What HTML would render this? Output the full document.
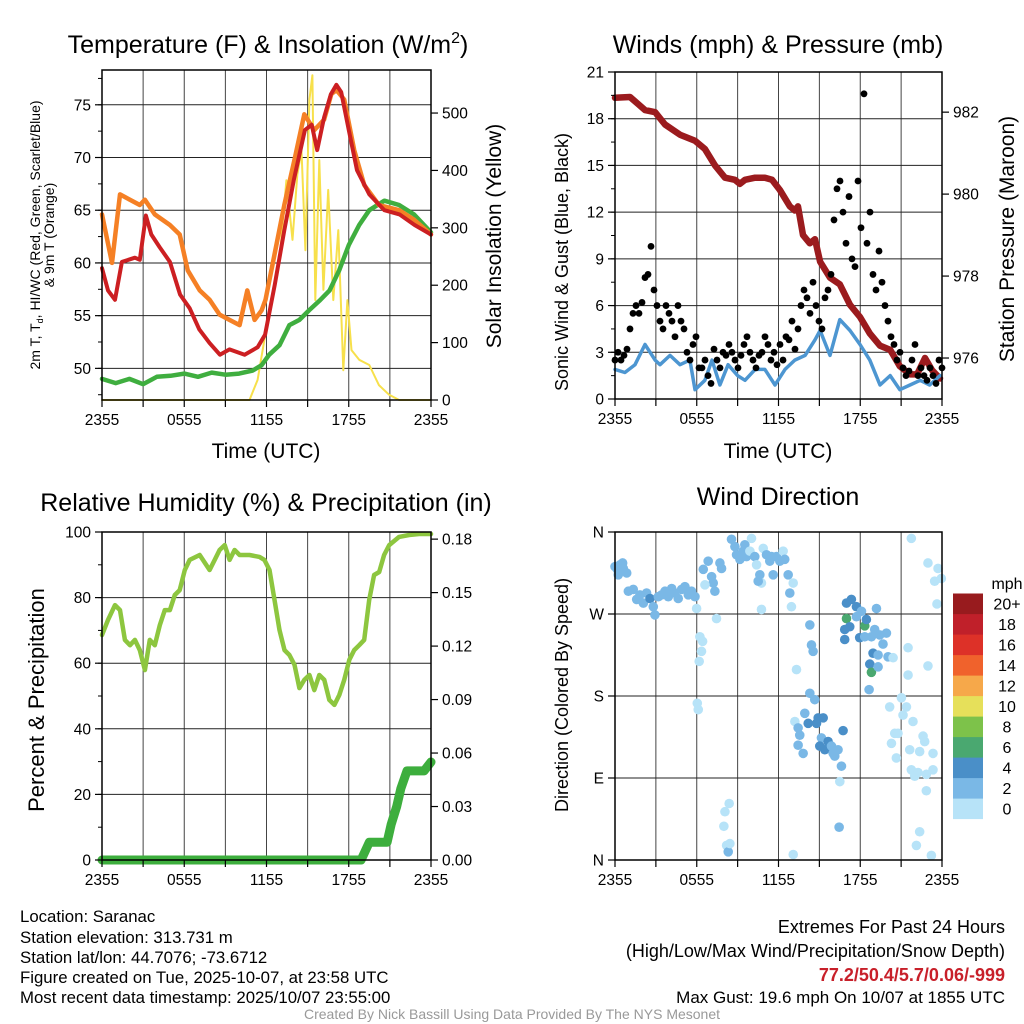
<!DOCTYPE html>
<html><head><meta charset="utf-8">
<style>
html,body{margin:0;padding:0;background:#fff;}
svg{display:block;font-family:"Liberation Sans",Arial,sans-serif;}
</style></head>
<body>
<svg id="chart" width="1024" height="1024" viewBox="0 0 1024 1024" xmlns="http://www.w3.org/2000/svg">
<g id="layer-grid"></g>
<g id="layer-data"></g>
<g id="layer-axes"></g>

<text x="268" y="53" font-size="25" text-anchor="middle">Temperature (F) &amp; Insolation (W/m<tspan font-size="16" dy="-10">2</tspan><tspan dy="10">)</tspan></text>
<text x="778" y="53" font-size="25" text-anchor="middle">Winds (mph) &amp; Pressure (mb)</text>
<text x="266" y="511" font-size="25" text-anchor="middle">Relative Humidity (%) &amp; Precipitation (in)</text>
<text x="778" y="505" font-size="25" text-anchor="middle">Wind Direction</text>

<text x="266" y="458" font-size="21" text-anchor="middle">Time (UTC)</text>
<text x="778" y="458" font-size="21" text-anchor="middle">Time (UTC)</text>

<text transform="translate(40,235) rotate(-90)" font-size="14" text-anchor="middle">2m T, T<tspan font-size="9" dy="3">d</tspan><tspan dy="-3">, HI/WC (Red, Green, Scarlet/Blue)</tspan></text>
<text transform="translate(54,235) rotate(-90)" font-size="14" text-anchor="middle">&amp; 9m T (Orange)</text>
<text transform="translate(501,236) rotate(-90)" font-size="21" text-anchor="middle">Solar Insolation (Yellow)</text>
<text transform="translate(568,262) rotate(-90)" font-size="18" text-anchor="middle">Sonic Wind &amp; Gust (Blue, Black)</text>
<text transform="translate(1014,239) rotate(-90)" font-size="21" text-anchor="middle">Station Pressure (Maroon)</text>
<text transform="translate(44,700) rotate(-90)" font-size="22" text-anchor="middle">Percent &amp; Precipitation</text>
<text transform="translate(568,695) rotate(-90)" font-size="18" text-anchor="middle">Direction (Colored By Speed)</text>

<g font-size="16.8">
<text x="20" y="922">Location: Saranac</text>
<text x="20" y="943">Station elevation: 313.731 m</text>
<text x="20" y="963">Station lat/lon: 44.7076; -73.6712</text>
<text x="20" y="983">Figure created on Tue, 2025-10-07, at 23:58 UTC</text>
<text x="20" y="1003">Most recent data timestamp: 2025/10/07 23:55:00</text>
</g>
<g font-size="18" text-anchor="end">
<text x="1005" y="933">Extremes For Past 24 Hours</text>
<text x="1005" y="957">(High/Low/Max Wind/Precipitation/Snow Depth)</text>
<text x="1005" y="981" fill="#c8202a" font-weight="bold">77.2/50.4/5.7/0.06/-999</text>
<text x="1005" y="1003" font-size="17">Max Gust: 19.6 mph On 10/07 at 1855 UTC</text>
</g>
<text x="512" y="1019" font-size="14" fill="#999" text-anchor="middle">Created By Nick Bassill Using Data Provided By The NYS Mesonet</text>
</svg>
<script>
// ---------- data ----------
const xTickLabels = ["2355","0555","1155","1755","2355"];
const xTickHours = [0,6,12,18,24];

const tempTimes = [0,0.44,0.95,1.45,2.4,2.76,3.2,3.6,4.2,4.95,5.7,6.4,7.1,7.85,8.6,9.3,10.4,11.35,11.9,12.6,13.3,14.0,14.8,15.3,15.7,16.2,16.7,17.1,17.45,18.0,18.6,19.5,20.6,21.7,22.8,24];
const tempValues = [59.5,57.4,56.5,60.1,60.5,60.3,64.5,62.7,61.5,60.1,57,55.7,53.7,52.4,51.3,51.8,51.3,52,53.2,57.9,63.1,67.9,72.6,73.1,70.7,73.8,76,76.9,76.2,72.6,68.8,66.5,65,64.6,63.6,62.7];
const temp9mTimes = [0,0.73,1.31,2.76,3.13,3.85,4.95,5.67,6.25,7.13,7.85,8.58,9.3,10.04,10.6,11.13,11.64,11.93,12.58,13.3,14.04,14.76,15.49,16.2,16.73,17.1,17.67,18.4,19.13,20.2,21.67,22.76,24];
const temp9mValues = [64.6,60,66.5,65.5,66,64.6,63.6,62.7,59.3,57.4,56.5,55.1,54.6,54.1,57.4,54.6,55.5,56.5,60.8,65.5,69.8,74.1,72.6,73.6,76,76.4,75.5,70.7,67.4,65.5,65,64.1,62.7];
const dewTimes = [0,1,2,3,4,5,6,7,8,9,10,11,11.64,12.2,12.95,13.67,14.4,15.1,15.85,16.6,17.3,18.0,18.76,19.5,20.6,21.67,22.76,24];
const dewValues = [49,48.6,49,48.5,49.2,49.3,49.5,49.2,49.6,49.4,49.5,49.8,50.3,51.3,52.2,54.1,54.6,55.5,56.4,57.4,59.3,61.7,63.6,65,65.9,65.5,64.6,62.9];
const solarTimes = [0,10.76,11.35,11.85,12.2,12.95,13.45,13.9,14.25,14.55,14.84,15.13,15.35,15.56,15.85,16.15,16.5,16.87,17.24,17.6,17.9,18.2,18.76,19.5,20.2,20.95,21.67,24];
const solarValues = [0,0,35,105,148,244,383,279,392,435,261,523,566,174,418,192,366,174,296,52,174,87,70,61,26,9,0,0];
const tempTicks = [50,55,60,65,70,75];
const solarTicks = [0,100,200,300,400,500];

const pressTimes = [0,1.1,2.2,2.94,3.67,4.77,5.87,6.6,7.34,8.07,8.8,9.17,9.54,10.28,11.0,11.52,12.1,12.84,13.2,13.43,13.8,14.3,14.68,15.05,15.78,16.5,17.25,17.98,18.7,19.45,20.2,20.9,21.65,22.17,22.75,23.27,23.85];
const pressValues = [982.35,982.37,982.05,982.0,981.7,981.45,981.3,981.1,980.7,980.4,980.35,980.25,980.35,980.4,980.4,980.35,980.1,979.7,979.6,979.7,979.0,978.8,978.9,978.35,977.96,977.8,977.3,977.0,976.6,976.3,976.2,975.8,975.6,975.6,976.0,975.7,975.5];
const windTimes = [0,0.73,1.47,2.2,2.94,3.3,4.04,4.77,5.5,5.87,6.6,7.12,7.7,8.3,9.0,9.54,10.28,11.0,11.74,12.48,13.2,13.95,14.68,15.05,15.78,16.5,17.25,17.98,18.7,19.45,20.2,20.9,21.65,22.4,23.1,23.85];
const windValues = [1.9,1.7,2.2,3.5,2.5,2.2,2.8,2.2,2.5,0.6,1.2,2.5,0.9,2.2,1.5,1.2,1.9,1.9,0.9,1.9,2.5,2.8,3.8,4.4,2.8,5.1,4.4,3.5,2.5,0.9,1.5,0.6,0.9,1.2,0.9,1.5];
const gustValues = [2.5,3,2.5,2.8,3.2,4.5,5.5,6,5.5,6.2,7.8,
 8,9.8,7,6,5,4.5,6,5.5,5,
 4,6,5,4.5,3,2.5,3.5,4,2,
 2,2.5,1.5,1,3.2,2.5,2,3,2.8,
 3.5,3,2.5,2,2.8,3.5,4,3,2.5,
 2,2.8,3,4,3.5,2.5,3,2.2,3.5,
 2.5,4,3.8,5,3.2,4.5,6,7,6.5,
 5.5,7.5,6,5,4.5,6.5,7,8,11.5,
 13.5,14,12,10,13,9,8.5,14,11,
 19.6,10,12,8,7,9.5,7.5,6,5,
 4,3.5,2.5,3,2,1.5,1.8,2.5,3.5,
 1.5,2,1.5,1.2,2,1.5,1,2.5,2];
const windTicks = [0,3,6,9,12,15,18,21];
const pressTicks = [976,978,980,982];

const rhTimes = [0,0.44,0.95,1.31,1.67,2.04,2.4,2.76,3.13,3.49,3.85,4.22,4.58,4.95,5.31,5.67,6.04,6.4,7.13,7.85,8.22,8.58,8.95,9.31,9.67,10.04,10.76,11.49,11.85,12.22,12.58,12.95,13.31,13.67,14.04,14.4,14.76,15.13,15.49,15.85,16.22,16.58,16.95,17.31,17.67,18.04,18.4,18.76,19.13,19.49,19.85,20.22,20.58,20.95,21.67,22.4,23.13,24];
const rhValues = [68.6,73.2,77.7,76.2,67.1,65.5,67.1,64,57.9,67.1,65.5,71.6,76.2,76.2,80.8,82.3,88.4,91.5,93,88.4,91.5,94.5,96,91.5,94.5,93,93,92.4,91.5,88.4,79.3,70.1,64,62.5,59.5,52.4,54.9,56.4,51.8,56.4,54.9,48.8,47.3,50.3,54.9,61,64,65.5,67.1,79.3,86.9,87.8,93,96,98.5,99.1,99.4,99.4];
const precipTimes = [0,18.9,19.5,20.8,21.1,21.5,21.8,22.25,23.5,24];
const precipValues = [0,0,0.01,0.01,0.02,0.03,0.04,0.05,0.05,0.055];
const rhTicks = [0,20,40,60,80,100];
const precipTicks = [0,0.03,0.06,0.09,0.12,0.15,0.18];
const precipTickLabels = ["0.00","0.03","0.06","0.09","0.12","0.15","0.18"];

const dirTimes = [0,0.17,0.37,0.61,0.86,0.24,0.56,0.98,1.34,1.59,1.83,2.08,2.32,2.57,2.81,2.93,3.18,3.42,3.67,3.91,4.16,4.40,4.64,4.89,5.13,5.38,5.62,5.87,5.99,6.48,6.84,7.09,7.21,7.33,7.70,7.82,6.60,7.45,6.23,6.43,6.35,6.18,6.04,6.11,8.38,8.07,7.99,8.19,8.31,8.43,8.55,8.80,8.92,9.17,9.41,9.65,9.53,10.02,9.90,10.26,10.39,10.63,10.75,10.75,10.51,10.88,11.12,11.36,11.49,11.61,11.85,12.10,12.34,12.46,12.71,12.83,12.95,13.08,13.32,14.30,14.42,14.54,14.30,14.66,13.20,13.44,13.56,13.93,14.18,13.81,13.44,14.79,14.91,15.28,15.15,15.40,15.64,15.89,16.13,16.37,16.62,16.74,15.03,16.01,16.50,16.45,16.99,17.35,17.72,18.09,16.99,17.23,16.86,16.86,17.96,18.33,18.33,18.45,18.82,19.19,19.06,19.43,19.67,19.92,18.94,19.31,18.70,18.82,19.31,20.04,20.41,18.65,17.72,21.75,22.97,23.71,23.46,23.95,23.63,21.51,21.51,22.97,20.16,21.02,21.14,21.39,21.87,22.61,22.73,22.36,20.53,20.77,20.29,20.65,21.63,21.75,22.00,22.24,22.85,23.34,23.34,22.85,22.36,22.12,23.22,13.08];
const dirDegrees = [322,319,324,320,315,313,326,295,297,286,291,282,293,287,278,269,289,291,295,289,298,293,287,297,300,291,295,289,276,319,328,311,304,295,326,320,302,265,245,240,229,218,172,165,62,53,37,16,9,18,352,344,335,330,339,333,346,353,339,333,324,313,304,275,306,342,335,328,333,313,333,328,339,330,313,293,278,304,209,258,236,229,183,176,152,145,137,161,150,117,126,150,156,156,134,121,130,125,114,121,103,142,125,117,86,36,282,286,278,273,265,256,253,242,244,245,257,264,245,276,253,247,237,249,227,225,215,206,212,223,222,187,267,353,326,320,306,309,281,233,203,213,168,178,159,168,152,136,130,119,139,139,128,112,121,99,92,96,94,99,117,76,31,16,5,6];
const dirSpeeds = [3,3,3,3,3,3,3,3,3,3,3,3,3,5,3,3,3,3,3,3,3,3,3,3,3,3,3,3,1,3,3,3,3,3,3,3,1,1,1,1,1,1,1,1,1,1,1,1,3,1,3,3,3,3,3,3,3,1,1,3,1,3,1,1,3,1,3,3,3,3,3,3,1,3,3,3,1,1,1,3,3,3,3,3,1,3,3,3,5,3,3,5,5,5,3,5,5,3,3,3,3,5,5,3,1,3,5,5,5,3,7,5,5,5,5,3,7,5,3,3,3,3,3,3,5,3,5,7,3,3,1,3,3,1,1,1,1,1,1,1,1,1,1,1,1,1,1,1,1,1,1,1,1,1,1,1,1,1,1,1,1,1,1,1,1,1];
const dirTicks = [0,90,180,270,360];
const dirTickLabels = ["N","E","S","W","N"];
const legendLabels = ["0","2","4","6","8","10","12","14","16","18","20+"];
const legendColors = ["#b7e3f8","#7ab8e6","#4a8fc8","#4aa870","#7dc24a","#e6e05a","#f6a84a","#f0622c","#dd3128","#c0202a","#981b1e"];

// ---------- scales ----------
const NS = "http://www.w3.org/2000/svg";
const P1 = {x0:102,x1:431,y0:70,y1:400};
const P2 = {x0:615,x1:942,y0:72,y1:399};
const P3 = {x0:102,x1:431,y0:532,y1:860};
const P4 = {x0:615,x1:942,y0:532,y1:860};
function xs(p,t){return p.x0 + t/24*(p.x1-p.x0);}
function lin(p,lo,hi){return v => p.y1 - (v-lo)/(hi-lo)*(p.y1-p.y0);}
const yT = lin(P1,47,78.3), yS = lin(P1,0,575);
const yW = lin(P2,0,21), yP = lin(P2,975.0,982.98);
const yR = lin(P3,0,100), yPr = lin(P3,0,0.184);
const yD = lin(P4,0,360);

const gGrid = document.getElementById('layer-grid');
const gData = document.getElementById('layer-data');
const gAxes = document.getElementById('layer-axes');
function mk(tag, attrs, parent){
  const e = document.createElementNS(NS, tag);
  for (const k in attrs) e.setAttribute(k, attrs[k]);
  parent.appendChild(e); return e;
}
function line(x1,y1,x2,y2,stroke,w,parent,name){
  const e = mk('line',{x1,y1,x2,y2,stroke,'stroke-width':w},parent);
  
  
  return e;
}
function txt(x,y,s,anchor,size,parent,name){
  const e = mk('text',{x,y,'text-anchor':anchor,'font-size':size},parent);
  e.textContent = s;
  
  
  return e;
}
function path(p, times, vals, yf, color, w, name){
  const d = times.map((t,i)=>(i?'L':'M')+xs(p,t).toFixed(1)+','+yf(vals[i]).toFixed(1)).join('');
  const e = mk('path',{d,fill:'none',stroke:color,'stroke-width':w,'stroke-linejoin':'round','stroke-linecap':'round'},gData);
  
  
  return e;
}

function frame(p, name, leftTicks, leftY, leftLabels, rightTicks, rightY, rightLabels, gridLeft, leftMinorStep, leftLo, leftHi){
  for (let h=3; h<24; h+=3) line(xs(p,h),p.y0,xs(p,h),p.y1,'#444',1,gGrid,name+'-vgrid');
  if (gridLeft) leftTicks.forEach(v=>{ const y=leftY(v); if (y>p.y0+1 && y<p.y1-1) line(p.x0,y,p.x1,y,'#222',1,gGrid,name+'-hgrid'); });
  const r = mk('rect',{x:p.x0,y:p.y0,width:p.x1-p.x0,height:p.y1-p.y0,fill:'none',stroke:'#000','stroke-width':1.5},gAxes);
  
  
  for (let h=0; h<=24; h+=3) line(xs(p,h),p.y1,xs(p,h),p.y1+7,'#000',1.2,gAxes,name+'-x-tick');
  xTickHours.forEach((h,i)=>txt(xs(p,h),p.y1+25,xTickLabels[i],'middle',15.5,gAxes,name+'-x-tick-label'));
  leftTicks.forEach((v,i)=>{ const y=leftY(v); line(p.x0-7,y,p.x0,y,'#000',1.2,gAxes,name+'-y-tick'); txt(p.x0-11,y+5.5,leftLabels[i],'end',15.5,gAxes,name+'-y-tick-label'); });
  if (leftMinorStep){ for (let v=leftLo; v<=leftHi; v+=leftMinorStep){ const y=leftY(v); if (y>=p.y0 && y<=p.y1) line(p.x0-4,y,p.x0,y,'#000',1,gAxes,name+'-y-minor-tick'); } }
  if (rightTicks){ rightTicks.forEach((v,i)=>{ const y=rightY(v); line(p.x1,y,p.x1+7,y,'#000',1.2,gAxes,name+'-y2-tick'); txt(p.x1+11,y+5.5,rightLabels[i],'start',15.5,gAxes,name+'-y2-tick-label'); }); }
}

// ---------- Panel 1 ----------
frame(P1,'temp',tempTicks,yT,tempTicks.map(String),solarTicks,yS,solarTicks.map(String),true,2.5,47.5,78);
path(P1,solarTimes,solarValues,yS,'#f7e04b',2,'solar-insolation-line');
path(P1,dewTimes,dewValues,yT,'#3fae3f',4.5,'dewpoint-line');
path(P1,temp9mTimes,temp9mValues,yT,'#f58025',4.5,'temp-9m-line');
path(P1,tempTimes,tempValues,yT,'#cc1f22',4,'temp-2m-line');

// ---------- Panel 2 ----------
frame(P2,'winds',windTicks,yW,windTicks.map(String),pressTicks,yP,pressTicks.map(String),true,1.5,0,21);
path(P2,pressTimes,pressValues,yP,'#9b1b1e',6.5,'pressure-line');
path(P2,windTimes,windValues,yW,'#4d96d1',3.5,'sonic-wind-line');
gustValues.forEach((v,i)=>{
  const t = i*24/(gustValues.length-1);
  const c = mk('circle',{cx:xs(P2,t),cy:yW(v),r:3.4,fill:'#000'},gData);
  
  
});

// ---------- Panel 3 ----------
frame(P3,'humidity',rhTicks,yR,rhTicks.map(String),precipTicks,yPr,precipTickLabels,true,10,0,100);
path(P3,rhTimes,rhValues,yR,'#8dc63f',4.5,'humidity-line');
path(P3,precipTimes,precipValues,yPr,'#3dae3d',9,'precipitation-line');

// ---------- Panel 4 ----------
frame(P4,'direction',dirTicks,yD,dirTickLabels,null,null,null,true,0,0,0);
dirTimes.forEach((t,i)=>{
  const s = dirSpeeds[i];
  const idx = Math.min(10, Math.floor(s/2));
  const c = mk('circle',{cx:xs(P4,t),cy:yD(dirDegrees[i]),r:4.8,fill:legendColors[idx]},gData);
  
  
});

// legend
txt(1007,589,'mph','middle',16,gAxes,'legend-title');
legendLabels.forEach((lab,i)=>{
  const y = 819 - (i+1)*20.5;
  const r = mk('rect',{x:953,y:y,width:30,height:20.6,fill:legendColors[i]},gAxes);
  
  
  txt(1007,y+16,lab,'middle',16,gAxes,'legend-label');
});
</script>
</body></html>
